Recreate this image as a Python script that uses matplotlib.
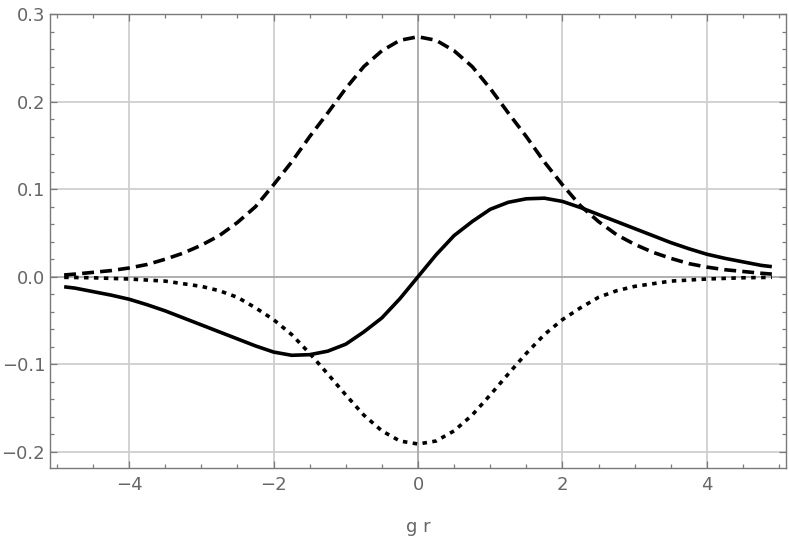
import numpy as np
import matplotlib
matplotlib.use("Agg")
import matplotlib.pyplot as plt
from matplotlib.ticker import MultipleLocator, FuncFormatter

# values
x_dash = [-4.9, -4.75, -4.5, -4.25, -4.0, -3.75, -3.5, -3.25, -3.0, -2.75, -2.5, -2.25, -2.0, -1.75, -1.5, -1.25, -1.0, -0.75, -0.5, -0.25,
          0.0, 0.25, 0.5, 0.75, 1.0, 1.25, 1.5, 1.75, 2.0, 2.25, 2.5, 2.75, 3.0, 3.25, 3.5, 3.75, 4.0, 4.25, 4.5, 4.75, 4.9]
y_dash = [0.002, 0.003, 0.005, 0.007, 0.010, 0.014, 0.020, 0.027, 0.036, 0.047, 0.062, 0.080, 0.105, 0.131, 0.160, 0.187, 0.215, 0.240, 0.258, 0.270,
          0.274, 0.270, 0.258, 0.240, 0.215, 0.187, 0.160, 0.131, 0.105, 0.081, 0.063, 0.048, 0.037, 0.028, 0.021, 0.015, 0.011, 0.008, 0.006, 0.004, 0.003]

x_dot = [-4.9, -4.5, -4.0, -3.5, -3.0, -2.75, -2.5, -2.25, -2.0, -1.75, -1.5, -1.25, -1.0, -0.75, -0.5, -0.25,
         0.0, 0.25, 0.5, 0.75, 1.0, 1.25, 1.5, 1.75, 2.0, 2.25, 2.5, 2.75, 3.0, 3.5, 4.0, 4.5, 4.9]
y_dot = [-0.0007, -0.0012, -0.0026, -0.005, -0.011, -0.016, -0.0235, -0.0355, -0.049, -0.066, -0.0875, -0.111, -0.135, -0.158, -0.176, -0.1876,
         -0.191, -0.1876, -0.176, -0.158, -0.135, -0.111, -0.0875, -0.066, -0.049, -0.0355, -0.0235, -0.016, -0.011, -0.005, -0.0026, -0.0012, -0.0007]

x_sol = [-4.9, -4.75, -4.5, -4.25, -4.0, -3.75, -3.5, -3.25, -3.0, -2.75, -2.5, -2.25, -2.0, -1.75, -1.5, -1.25, -1.0, -0.75, -0.5, -0.25,
         0.0, 0.25, 0.5, 0.75, 1.0, 1.25, 1.5, 1.75, 2.0, 2.25, 2.5, 2.75, 3.0, 3.25, 3.5, 3.75, 4.0, 4.25, 4.5, 4.75, 4.9]
y_sol = [-0.0115, -0.013, -0.017, -0.021, -0.0257, -0.032, -0.039, -0.047, -0.055, -0.063, -0.071, -0.079, -0.086, -0.0897, -0.089, -0.085, -0.077, -0.063, -0.047, -0.025,
         0.0, 0.025, 0.047, 0.063, 0.077, 0.085, 0.089, 0.0897, 0.086, 0.079, 0.071, 0.063, 0.055, 0.047, 0.039, 0.032, 0.0257, 0.021, 0.017, 0.013, 0.0115]

plt.rcParams['font.family'] = ['DejaVu Sans']

fig = plt.figure(figsize=(7.89, 5.45), dpi=100)
ax = fig.add_axes([50/789, 1-468/545, 736/789, 454/545])

#grid + axes through origin
for gx in [-4, -2, 2, 4]:
    ax.axvline(gx, color='#cfcfcf', lw=1.3, zorder=0)
for gy in [-0.2, -0.1, 0.1, 0.2]:
    ax.axhline(gy, color='#cfcfcf', lw=1.3, zorder=0)
ax.axvline(0, color='#a8a8a8', lw=1.3, zorder=0)
ax.axhline(0, color='#a8a8a8', lw=1.3, zorder=0)

lw = 2.6
ax.plot(x_sol, y_sol, color='black', lw=lw, solid_joinstyle='round', solid_capstyle='butt')
ax.plot(x_dash, y_dash, color='black', lw=lw, dashes=(3.3, 1.7))
ax.plot(x_dot, y_dot, color='black', lw=lw, dashes=(1.25, 1.5))

ax.set_xlim(-5.096, 5.096)
ax.set_ylim(-0.2184, 0.30)
ax.xaxis.set_major_locator(MultipleLocator(2))
ax.xaxis.set_minor_locator(MultipleLocator(0.5))
ax.yaxis.set_major_locator(MultipleLocator(0.1))
ax.yaxis.set_minor_locator(MultipleLocator(0.02))
ax.yaxis.set_major_formatter(FuncFormatter(lambda v, p: "0.0" if abs(v) < 1e-9 else f"{v:.1f}".replace('-', '\u2212')))
ax.xaxis.set_major_formatter(FuncFormatter(lambda v, p: f"{v:.0f}".replace('-', '\u2212')))

ax.tick_params(which='both', direction='in', top=True, right=True, color='#7a7a7a', labelcolor='#666666', labelsize=13)
ax.tick_params(which='major', length=5, width=0.9)
ax.tick_params(axis='y', which='major', pad=3.5)
ax.tick_params(axis='x', which='major', pad=6)
ax.tick_params(which='minor', length=3, width=0.9)
for s in ax.spines.values():
    s.set_color('#7a7a7a')
    s.set_linewidth(1.0)

ax.set_xlabel("g r", color='#666666', fontsize=13, labelpad=17)

fig.savefig("out.png", dpi=100)
